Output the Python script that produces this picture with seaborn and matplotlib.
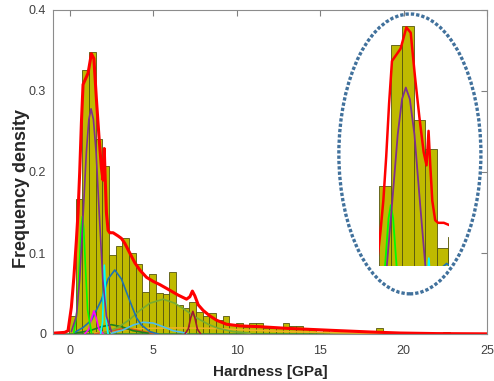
import numpy as np
import pandas as pd
import matplotlib
matplotlib.use("Agg")
import matplotlib.pyplot as plt
from matplotlib.patches import Ellipse
import seaborn as sns

# histogram of hardness (bin heights, bins of 0.4 GPa)
bin_start = -0.04
bin_width = 0.4
bin_heights = [0.022, 0.167, 0.326, 0.348, 0.241, 0.208, 0.097, 0.109, 0.118,
               0.0995, 0.087, 0.052, 0.074, 0.051, 0.049, 0.077, 0.036, 0.032, 0.039,
               0.027, 0.022, 0.026, 0.017, 0.022, 0.012, 0.013, 0.009, 0.013, 0.013,
               0.008, 0.008, 0.008, 0.013, 0.010, 0.010, 0.006, 0.005, 0.002, 0.006,
               0, 0, 0, 0, 0, 0, 0, 0.007, 0, 0, 0.003, 0, 0.003, 0, 0, 0, 0, 0.003]

# total fit (red)
red_x = [-1.0, -0.3, -0.1, 0.1, 0.25, 0.4, 0.5, 0.6, 0.7, 0.8, 0.95, 1.1, 1.3, 1.45,
         1.6, 1.75, 1.9, 2.0, 2.07, 2.13, 2.2, 2.3, 2.4, 2.6, 2.9, 3.1, 3.3, 3.6, 3.9,
         4.2, 4.6, 5.0, 5.4, 6.0, 6.5, 7.0, 7.2, 7.35, 7.5, 7.7, 8.0, 8.4, 8.8, 9.4,
         10.2, 11.4, 13.0, 15.6, 18.0, 19.8, 22.0, 25.0]
red_y = [0.001, 0.002, 0.004, 0.033, 0.07, 0.115, 0.15, 0.2, 0.26, 0.308, 0.315, 0.322,
         0.346, 0.34, 0.29, 0.245, 0.205, 0.19, 0.229, 0.19, 0.15, 0.128, 0.125, 0.125,
         0.121, 0.118, 0.112, 0.1, 0.088, 0.079, 0.07, 0.065, 0.061, 0.054, 0.048, 0.043,
         0.046, 0.053, 0.047, 0.036, 0.029, 0.0223, 0.017, 0.012, 0.010, 0.009, 0.007,
         0.0046, 0.0025, 0.0012, 0.0005, 0.0002]

# mixture components
purple_x = [0.1, 0.4, 0.6, 0.8, 1.0, 1.15, 1.28, 1.42, 1.58, 1.78, 1.98, 2.2, 2.5]
purple_y = [0.003, 0.022, 0.068, 0.145, 0.225, 0.265, 0.278, 0.265, 0.225, 0.145, 0.068, 0.022, 0.003]
lime_x = [0.25, 0.45, 0.58, 0.68, 0.76, 0.84, 0.94, 1.07, 1.3]
lime_y = [0.002, 0.03, 0.085, 0.13, 0.145, 0.13, 0.085, 0.03, 0.002]
magenta_x = [0.9, 1.15, 1.3, 1.45, 1.6, 1.75, 2.0]
magenta_y = [0.0, 0.006, 0.019, 0.0285, 0.019, 0.006, 0.0]
cyan_x = [1.85, 1.97, 2.03, 2.08, 2.13, 2.19, 2.3]
cyan_y = [0.0, 0.015, 0.06, 0.085, 0.06, 0.015, 0.0]
blue_x = [0.3, 0.8, 1.3, 1.9, 2.3, 2.7, 3.1, 3.6, 4.0, 4.3, 4.8, 5.3]
blue_y = [0.002, 0.008, 0.017, 0.042, 0.068, 0.079, 0.068, 0.041, 0.02, 0.011, 0.003, 0.0]
dkgreen_x = [0.3, 1.2, 1.9, 2.5, 3.1, 3.8, 4.7]
dkgreen_y = [0.001, 0.004, 0.009, 0.0115, 0.009, 0.004, 0.001]
ltblue_x = [2.5, 3.2, 3.8, 4.4, 5.0, 5.6, 6.2, 7.0]
ltblue_y = [0.001, 0.005, 0.011, 0.0145, 0.0135, 0.009, 0.004, 0.001]
olive_x = [2.0, 2.9, 3.6, 4.2, 4.8, 5.6, 6.3, 6.9, 7.6, 8.3, 8.9, 9.8, 10.8]
olive_y = [0.001, 0.008, 0.018, 0.029, 0.038, 0.043, 0.038, 0.03, 0.02, 0.012, 0.007, 0.003, 0.001]
darkred_x = [6.9, 7.1, 7.25, 7.38, 7.5, 7.65, 7.85]
darkred_y = [0.0, 0.006, 0.02, 0.028, 0.02, 0.006, 0.0]
yellow_x = [1.5, 3.0, 4.5, 6.5, 8.5, 10.5, 13.0, 16.0, 20.0, 25.0]
yellow_y = [0.001, 0.005, 0.007, 0.0075, 0.007, 0.005, 0.003, 0.0015, 0.0005, 0.0001]
orange_x = [1.5, 2.3, 3.0, 3.7, 4.4, 5.2]
orange_y = [0.0, 0.003, 0.006, 0.006, 0.003, 0.0]
flat_x = [-1.0, 25.0]
flat_y = [0.0, 0.0]

components = [
    (flat_x, flat_y, "#2E8B2E"),
    (yellow_x, yellow_y, "#EDB120"),
    (orange_x, orange_y, "#D95319"),
    (dkgreen_x, dkgreen_y, "#1E7F1E"),
    (ltblue_x, ltblue_y, "#4DBEEE"),
    (olive_x, olive_y, "#77AC30"),
    (darkred_x, darkred_y, "#A2142F"),
    (blue_x, blue_y, "#1F72B0"),
    (magenta_x, magenta_y, "#FF00FF"),
    (cyan_x, cyan_y, "#00FFFF"),
    (lime_x, lime_y, "#00FF00"),
    (purple_x, purple_y, "#7E2F8E"),
]

bin_edges = [bin_start + bin_width * i for i in range(len(bin_heights) + 1)]
hist_df = pd.DataFrame({
    "center": [e + bin_width / 2 for e in bin_edges[:-1]],
    "height": bin_heights,
})

sns.set_style("white")
plt.rcParams['font.family'] = ['Liberation Sans', 'DejaVu Sans']

fig = plt.figure(figsize=(4.94, 3.81), dpi=100)
ax = fig.add_axes([53 / 494, 1 - 334 / 381, 434 / 494, 324 / 381])
axin = fig.add_axes([379.3 / 494, (381 - 265.7) / 381, 69.7 / 494, 259.5 / 381])


def draw(a, lw_comp, lw_red):
    sns.histplot(data=hist_df, x="center", weights="height", bins=bin_edges, ax=a,
                 color="#BFBA00", edgecolor="#55550F", linewidth=0.6, alpha=1)
    for xs, ys, c in components:
        a.plot(xs, ys, color=c, lw=lw_comp, solid_joinstyle="round")
    a.plot(red_x, red_y, color="#FF0000", lw=lw_red, solid_joinstyle="round")


draw(ax, 1.2, 2.2)
draw(axin, 1.3, 1.8)

ax.set_xlim(-1, 25)
ax.set_ylim(0, 0.4)
ax.set_xticks([0, 5, 10, 15, 20, 25])
ax.set_yticks([0, 0.1, 0.2, 0.3, 0.4])
ax.set_yticklabels(["0", "0.1", "0.2", "0.3", "0.4"])
ax.tick_params(direction="in", length=4, width=0.8, color="#808080", top=True,
               right=True, labelsize=9, labelcolor="#404040")
ax.tick_params(axis="x", pad=8)
ax.tick_params(axis="y", pad=5)
for s in ax.spines.values():
    s.set_color("#8C8C8C")
    s.set_linewidth(0.8)
ax.set_xlabel("Hardness [GPa]", fontsize=11, fontweight="bold", color="#262626", labelpad=6)
ax.set_ylabel("Frequency density", fontsize=13, fontweight="bold", color="#262626")
ax.yaxis.set_label_coords(-0.053, 0.45)

axin.set_xlim(0.36, 2.78)
axin.set_ylim(0.0765, 0.37)
axin.axis("off")

ring = Ellipse((20.38, 0.2223), 8.51, 0.3455, fill=False, edgecolor="#41719C",
               lw=2.4, linestyle=(0, (1, 0.6)), zorder=10, clip_on=False)
ax.add_patch(ring)

fig.savefig("out.png", dpi=100)
